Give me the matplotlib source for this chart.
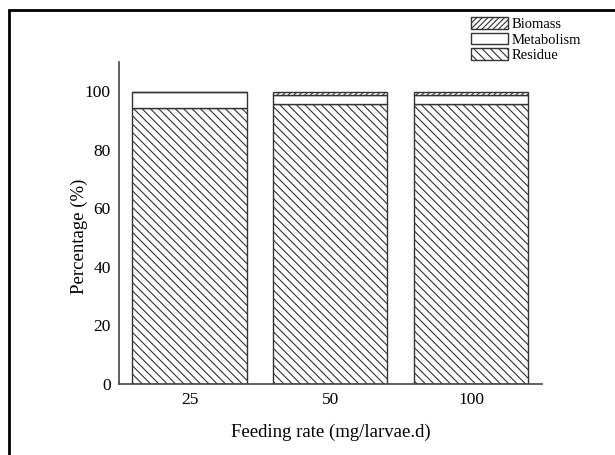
import matplotlib.pyplot as plt
from matplotlib.patches import Rectangle

categories = ['25', '50', '100']
residue = [94.2, 95.8, 95.5]
metabolism = [5.5, 2.8, 3.1]
biomass = [0.2, 1.1, 1.1]

plt.rcParams['font.family'] = 'Liberation Serif'
plt.rcParams['hatch.linewidth'] = 0.8
plt.rcParams['hatch.color'] = '#707070'

fig = plt.figure(figsize=(6.15, 4.55), dpi=100)
ax = fig.add_axes([0.1935, 0.156, 0.6875, 0.7077])

x = range(len(categories))
w = 0.81
ax.bar(x, residue, w, color='white', edgecolor='#333333', linewidth=1.0,
       hatch='\\\\\\\\', label='Residue')
ax.bar(x, metabolism, w, bottom=residue, color='white', edgecolor='#333333',
       linewidth=1.0, label='Metabolism')
bot2 = [r + m for r, m in zip(residue, metabolism)]
ax.bar(x, biomass, w, bottom=bot2, color='white', edgecolor='#333333',
       linewidth=1.0, hatch='//////', label='Biomass')

ax.set_xlim(-0.5, 2.5)
ax.set_ylim(0, 110)
ax.set_yticks([0, 20, 40, 60, 80, 100])
ax.set_xticks(list(x))
ax.set_xticklabels(categories)
ax.tick_params(length=0, labelsize=12.5, pad=6)
for s in ['top', 'right']:
    ax.spines[s].set_visible(False)
for s in ['left', 'bottom']:
    ax.spines[s].set_color('#444444')
    ax.spines[s].set_linewidth(1.2)

ax.set_ylabel('Percentage (%)', fontsize=13.5)
ax.yaxis.set_label_coords(-0.073, 0.46)
ax.set_xlabel('Feeding rate (mg/larvae.d)', fontsize=13.5, labelpad=11)

h, l = ax.get_legend_handles_labels()
fig.legend(h[::-1], l[::-1], loc='upper left', bbox_to_anchor=(0.757, 0.975),
           frameon=False, fontsize=10.5, handlelength=2.5, handleheight=0.85,
           handletextpad=0.25, labelspacing=0.12, borderaxespad=0)

fig.patches.append(Rectangle((9 / 615, -0.1), 1.2, 1 - 10 / 455 + 0.1,
                             transform=fig.transFigure, fill=False,
                             edgecolor='black', linewidth=2.0))

fig.savefig('out.png', dpi=100)
